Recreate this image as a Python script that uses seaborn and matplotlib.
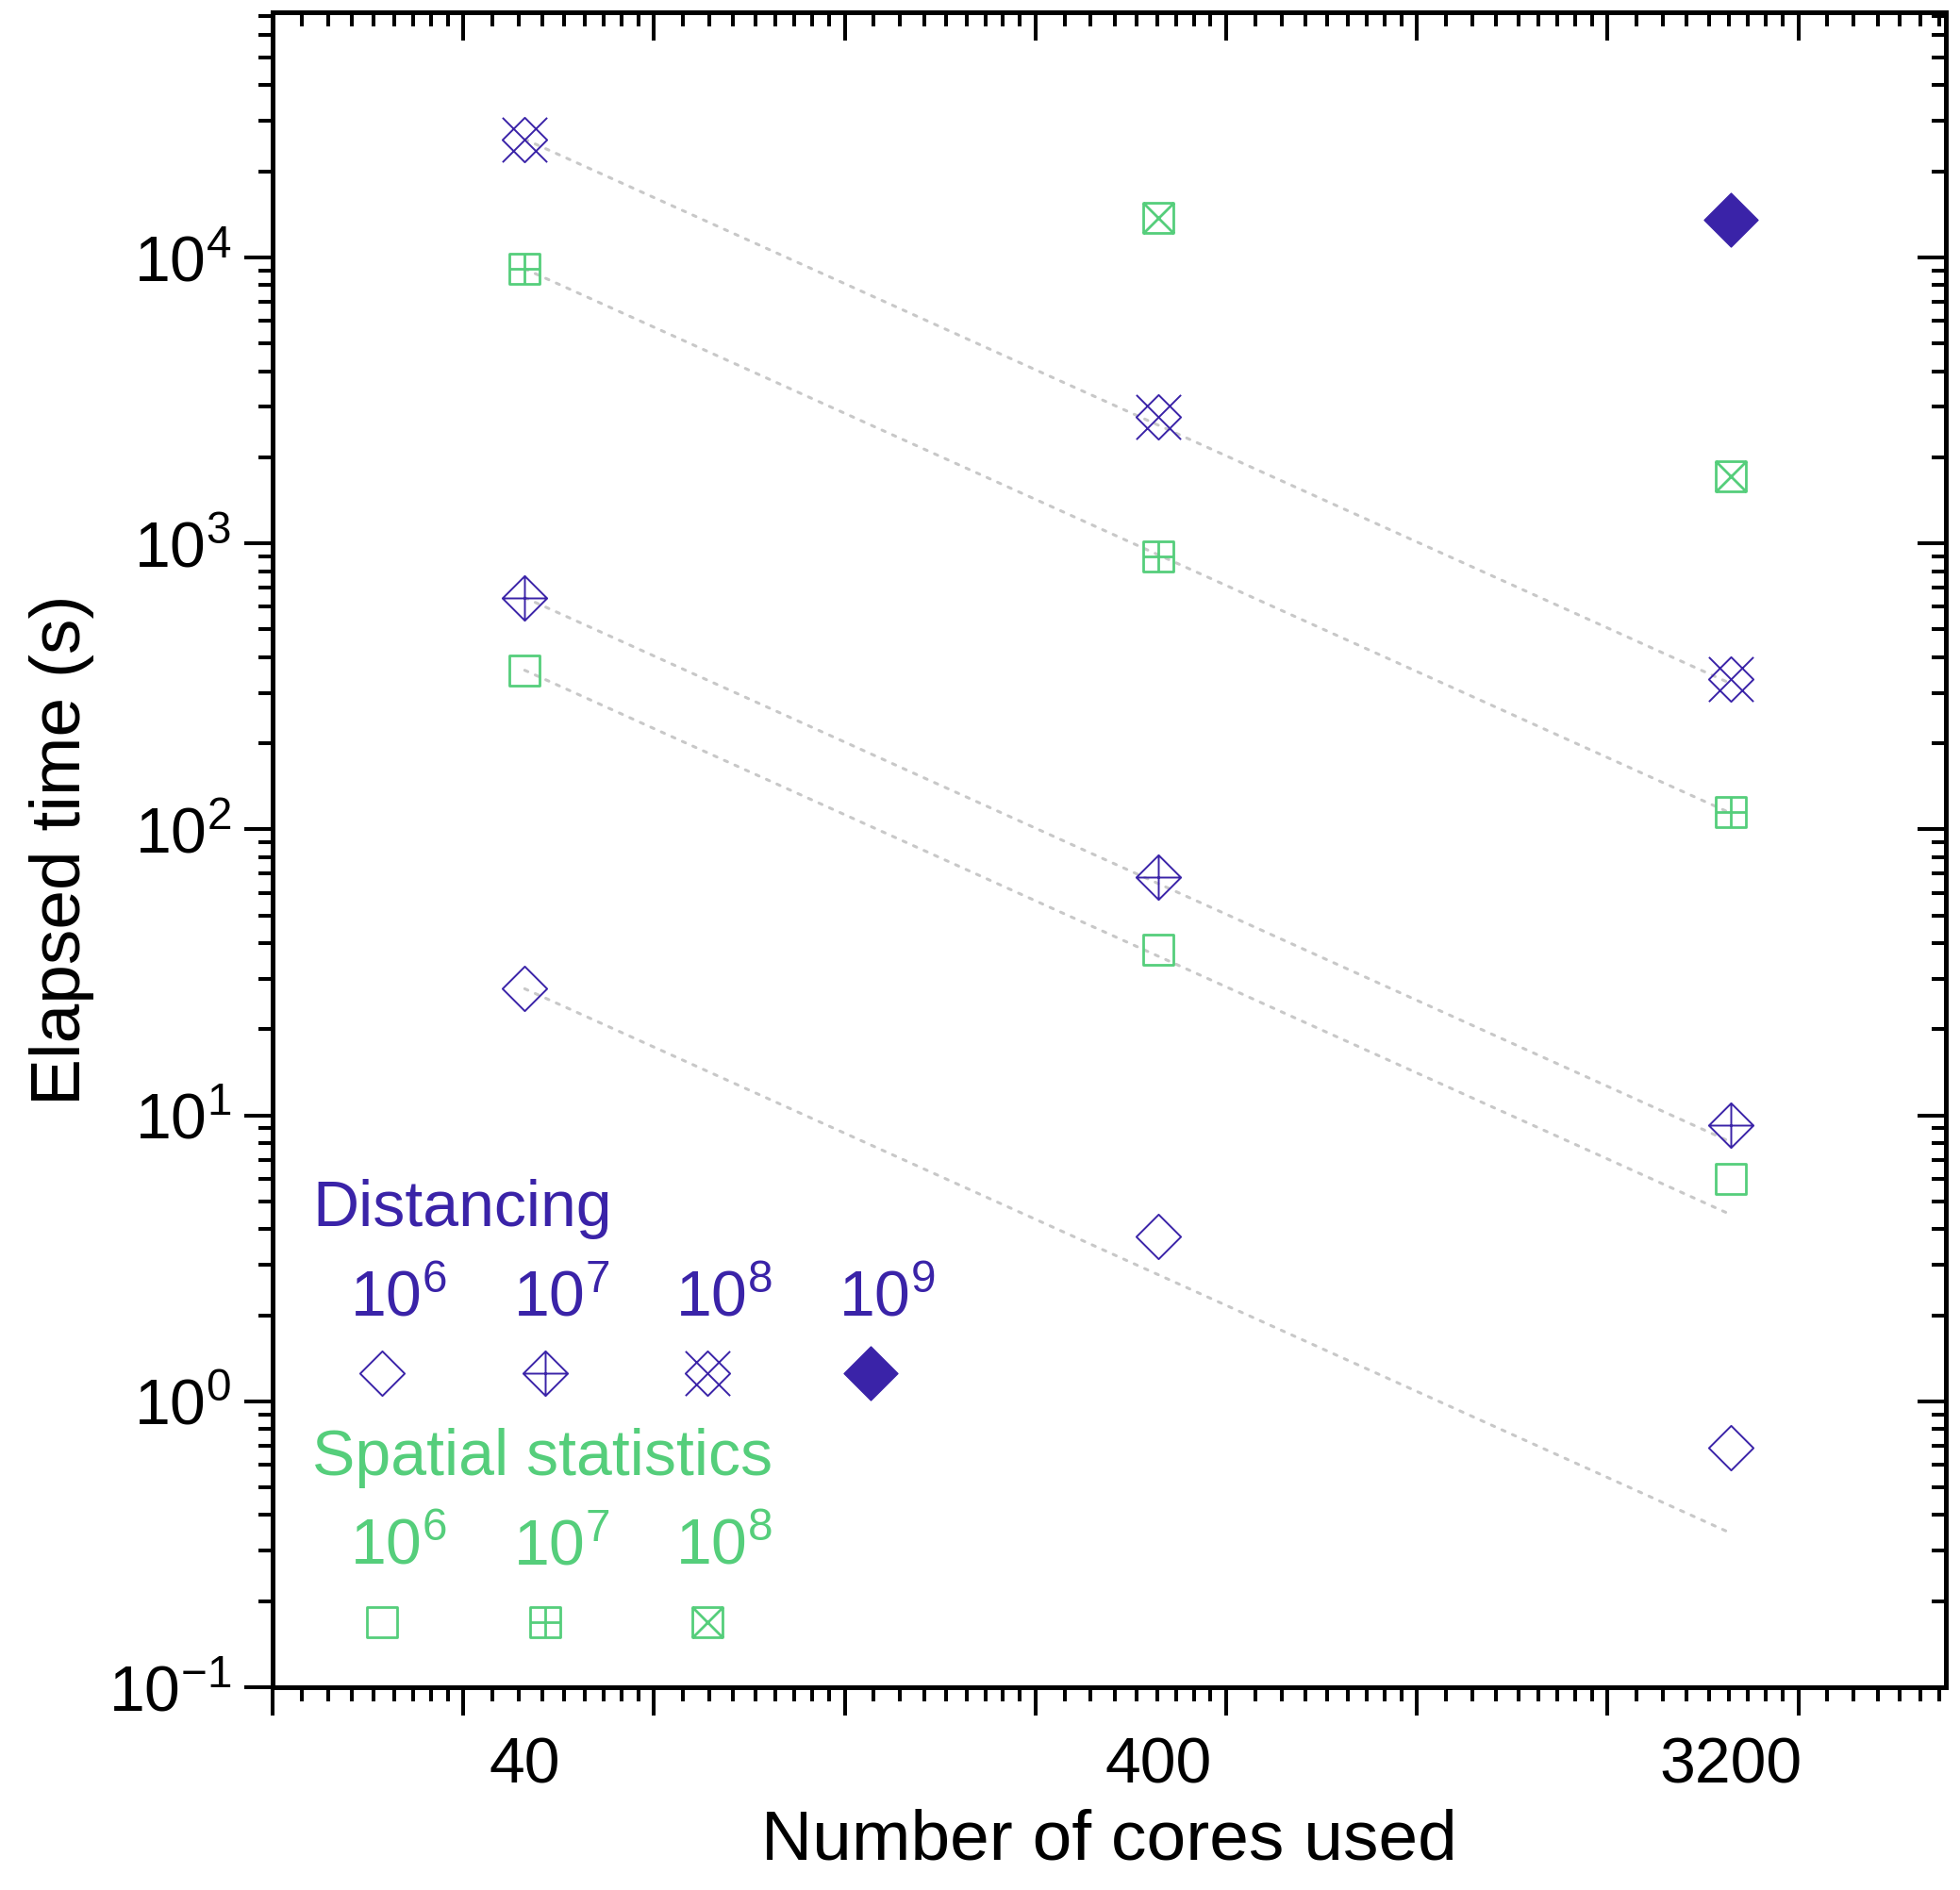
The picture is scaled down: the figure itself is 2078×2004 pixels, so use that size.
import numpy as np
import pandas as pd
import seaborn as sns
import matplotlib
matplotlib.use('Agg')
import matplotlib.pyplot as plt
from matplotlib.path import Path
from matplotlib import ticker

# data
cores = [40, 400, 3200]

dist_1e6 = [27.7, 3.77, 0.69]
dist_1e7 = [646, 68.0, 9.25]
dist_1e8 = [25900, 2780, 335]
dist_1e9 = [np.nan, np.nan, 13500]

spat_1e6 = [360, 37.8, 6.0]
spat_1e7 = [9120, 901, 114.6]
spat_1e8 = [np.nan, 13700, 1715]

x_labels = ['40', '400', '3200']

PURPLE = '#3A23A8'
GREEN = '#55CE7B'
GREY = '#C8C8C8'

M, L, C = Path.MOVETO, Path.LINETO, Path.CLOSEPOLY


def make_marker(outline, extra):
    verts = list(outline)
    codes = [M, L, L, L, C]
    for a, b in extra:
        verts += [a, b]
        codes += [M, L]
    return Path(verts, codes)


diamond = [(0, 1), (1, 0), (0, -1), (-1, 0), (0, 1)]
square = [(-1, -1), (1, -1), (1, 1), (-1, 1), (-1, -1)]
plus = [((0, 1), (0, -1)), ((-1, 0), (1, 0))]
cross = [((-1, -1), (1, 1)), ((-1, 1), (1, -1))]

# (label, exponent, times, color, marker, size, filled, edge width)
series = [
    ('Distancing', 6, dist_1e6, PURPLE, make_marker(diamond, []), 34, False, 1.4),
    ('Distancing', 7, dist_1e7, PURPLE, make_marker(diamond, plus), 34, False, 1.4),
    ('Distancing', 8, dist_1e8, PURPLE, make_marker(diamond, cross), 34, False, 1.4),
    ('Distancing', 9, dist_1e9, PURPLE, make_marker(diamond, []), 41, True, 1.0),
    ('Spatial statistics', 6, spat_1e6, GREEN, make_marker(square, []), 23, False, 2.0),
    ('Spatial statistics', 7, spat_1e7, GREEN, make_marker(square, plus), 23, False, 2.0),
    ('Spatial statistics', 8, spat_1e8, GREEN, make_marker(square, cross), 23, False, 2.0),
]

frames = []
for method, exp, times, *_ in series:
    frames.append(pd.DataFrame({'method': method, 'size': exp,
                                'cores': cores, 'time': times}))
df = pd.concat(frames, ignore_index=True)

# ideal (linear) scaling from the 40-core run
ideal = []
for method, exp, times, *_ in series:
    if np.isnan(times[0]):
        continue
    for c in (cores[0], cores[-1]):
        ideal.append({'series': '%s %d' % (method, exp), 'cores': c,
                      'time': times[0] * cores[0] / c})
ideal = pd.DataFrame(ideal)

sns.set_theme(style='ticks')
plt.rcParams['font.family'] = ['Liberation Sans', 'DejaVu Sans']
plt.rcParams['axes.unicode_minus'] = False
for key in ('text.color', 'axes.labelcolor', 'xtick.color', 'ytick.color',
            'axes.edgecolor'):
    plt.rcParams[key] = 'black'

fig = plt.figure(figsize=(20.78, 20.04), dpi=100)
ax = fig.add_axes([0.13908, 0.10729, 0.85371, 0.88623])

XLIM = (16, 7000)
YLIM = (0.1, 72000)

ax.set_xscale('log', base=2)
ax.set_yscale('log')
ax.set_xlim(*XLIM)
ax.set_ylim(*YLIM)

sns.lineplot(data=ideal, x='cores', y='time', units='series', estimator=None,
             color=GREY, linewidth=2.2, linestyle=(0, (1.2, 2.8)),
             dash_capstyle='round', ax=ax, legend=False, zorder=1)

for method, exp, times, col, mk, ms, filled, mew in series:
    sub = df[(df['method'] == method) & (df['size'] == exp)]
    sns.lineplot(data=sub, x='cores', y='time', ax=ax, color=col,
                 marker=mk, markersize=ms,
                 markerfacecolor=col if filled else 'none',
                 markeredgecolor=col, markeredgewidth=mew,
                 linestyle='none', errorbar=None, legend=False, zorder=3)

ax.set_xlim(*XLIM)
ax.set_ylim(*YLIM)

# x labels sit at the core counts, tick marks are on powers of two
ax.set_xticks(cores, labels=x_labels)
ax.xaxis.set_minor_locator(ticker.NullLocator())
ax.tick_params(axis='x', which='major', length=0, pad=37, labelsize=49,
               labelcolor='black')

ax.yaxis.set_major_locator(ticker.LogLocator(base=10))
ax.yaxis.set_minor_locator(ticker.LogLocator(base=10, subs=np.arange(2, 10)))
ax.yaxis.set_minor_formatter(ticker.NullFormatter())
ax.tick_params(axis='y', which='major', direction='out', length=21.6,
               width=2.9, pad=10, labelsize=49, left=True, right=False,
               color='black', labelcolor='black')
ax.tick_params(axis='y', which='minor', direction='out', length=11,
               width=2.9, left=True, right=False, color='black')

oct_subs = 1 + np.arange(1, 9) / 9.0
for pos, dirn in (('bottom', 'out'), ('top', 'in')):
    tw = ax.twiny()
    tw.set_xscale('log', base=2)
    tw.set_xlim(*XLIM)
    tw.xaxis.set_ticks_position(pos)
    tw.xaxis.set_major_locator(ticker.LogLocator(base=2))
    tw.xaxis.set_minor_locator(ticker.LogLocator(base=2, subs=oct_subs))
    tw.xaxis.set_major_formatter(ticker.NullFormatter())
    tw.xaxis.set_minor_formatter(ticker.NullFormatter())
    tw.tick_params(axis='x', which='major', direction=dirn, length=21.6,
                   width=2.9, color='black')
    tw.tick_params(axis='x', which='minor', direction=dirn, length=11,
                   width=2.9, color='black')
    for s in tw.spines.values():
        s.set_visible(False)

tr = ax.twinx()
tr.set_yscale('log')
tr.set_ylim(*YLIM)
tr.yaxis.set_major_locator(ticker.LogLocator(base=10))
tr.yaxis.set_minor_locator(ticker.LogLocator(base=10, subs=np.arange(2, 10)))
tr.yaxis.set_major_formatter(ticker.NullFormatter())
tr.yaxis.set_minor_formatter(ticker.NullFormatter())
tr.tick_params(axis='y', which='major', direction='in', length=21.6,
               width=2.9, color='black')
tr.tick_params(axis='y', which='minor', direction='in', length=11,
               width=2.9, color='black')
for s in tr.spines.values():
    s.set_visible(False)

for s in ax.spines.values():
    s.set_visible(True)
    s.set_linewidth(3.6)
    s.set_color('black')

ax.set_xlabel('Number of cores used', fontsize=54, color='black')
ax.set_ylabel('Elapsed time (s)', fontsize=54, color='black')
ax.xaxis.set_label_coords(0.5, -0.0726)
ax.yaxis.set_label_coords(-0.1065, 0.5)

# hand-made legend in the lower left corner
leg_x = [0.0654, 0.1629, 0.2599, 0.3574]
groups = [('Distancing', PURPLE, 0.2753, 0.2218, 0.1875),
          ('Spatial statistics', GREEN, 0.1267, 0.0732, 0.0389)]
for name, col, y_title, y_num, y_mark in groups:
    ax.text(0.0237, y_title, name, color=col, fontsize=49,
            transform=ax.transAxes, va='baseline', ha='left')
    entries = [s for s in series if s[0] == name]
    for xi, (_, exp, _, c, mk, ms, filled, mew) in zip(leg_x, entries):
        ax.text(xi - 0.019, y_num, r'$\mathregular{10^{%d}}$' % exp, color=col,
                fontsize=49, transform=ax.transAxes, va='baseline', ha='left')
        ax.plot([xi], [y_mark], transform=ax.transAxes, marker=mk, markersize=ms,
                markerfacecolor=c if filled else 'none', markeredgecolor=c,
                markeredgewidth=mew, linestyle='none')

fig.savefig('out.png', dpi=100)
